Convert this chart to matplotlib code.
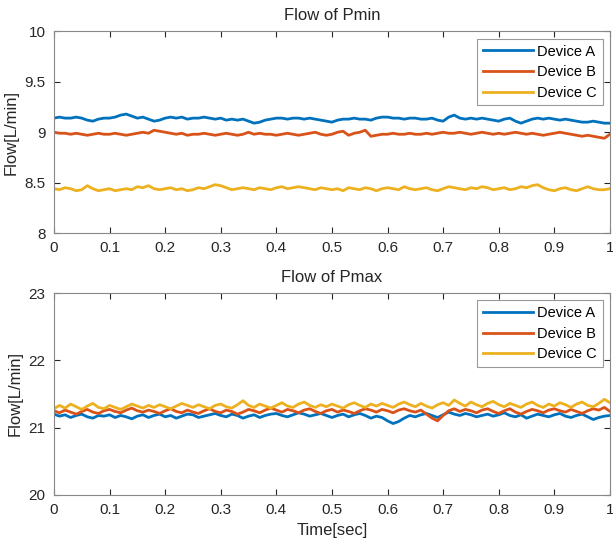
import numpy as np
import matplotlib
matplotlib.use("Agg")
from matplotlib import pyplot as plt

plt.rcParams['font.family'] = ['Liberation Sans', 'DejaVu Sans']

# sample times (sec)
t = np.linspace(0, 1, 101)

# Flow of Pmin [L/min]
pmin_a = [9.14, 9.15, 9.14, 9.14, 9.15, 9.14, 9.12, 9.11, 9.13, 9.14,
          9.14, 9.15, 9.17, 9.18, 9.16, 9.14, 9.15, 9.13, 9.11, 9.12,
          9.14, 9.15, 9.14, 9.15, 9.13, 9.14, 9.14, 9.15, 9.14, 9.13,
          9.14, 9.12, 9.13, 9.12, 9.13, 9.11, 9.09, 9.10, 9.12, 9.13,
          9.14, 9.14, 9.13, 9.14, 9.14, 9.13, 9.14, 9.13, 9.12, 9.11,
          9.10, 9.12, 9.13, 9.13, 9.14, 9.13, 9.13, 9.12, 9.14, 9.15,
          9.15, 9.14, 9.14, 9.13, 9.14, 9.14, 9.13, 9.13, 9.14, 9.12,
          9.11, 9.15, 9.17, 9.14, 9.13, 9.14, 9.13, 9.14, 9.13, 9.12,
          9.11, 9.13, 9.14, 9.11, 9.09, 9.11, 9.13, 9.14, 9.13, 9.14,
          9.13, 9.12, 9.13, 9.12, 9.11, 9.10, 9.10, 9.11, 9.10, 9.09, 9.09]
pmin_b = [9.00, 8.99, 8.99, 8.98, 8.99, 8.98, 8.97, 8.98, 8.99, 8.98,
          8.98, 8.99, 8.98, 8.97, 8.98, 8.99, 9.00, 8.99, 9.02, 9.01,
          9.00, 8.99, 8.98, 8.99, 8.97, 8.98, 8.98, 8.99, 8.98, 8.97,
          8.98, 8.99, 8.98, 8.97, 8.98, 9.00, 8.98, 8.99, 8.98, 8.98,
          8.97, 8.98, 8.99, 8.98, 8.97, 8.98, 8.99, 9.00, 8.98, 8.97,
          8.98, 9.00, 9.01, 8.97, 8.99, 9.00, 9.02, 8.96, 8.97, 8.98,
          8.98, 8.99, 8.98, 8.98, 8.99, 8.98, 8.98, 8.99, 8.98, 8.99,
          9.00, 8.99, 8.99, 9.00, 8.99, 8.98, 8.99, 9.00, 8.99, 8.98,
          8.99, 8.98, 8.99, 9.00, 8.99, 8.98, 8.99, 8.98, 8.97, 8.98,
          8.99, 9.00, 8.99, 8.98, 8.97, 8.96, 8.97, 8.96, 8.95, 8.94, 8.98]
pmin_c = [8.44, 8.43, 8.45, 8.44, 8.42, 8.43, 8.47, 8.44, 8.42, 8.43,
          8.44, 8.42, 8.43, 8.44, 8.43, 8.46, 8.45, 8.47, 8.44, 8.43,
          8.44, 8.45, 8.43, 8.44, 8.42, 8.43, 8.45, 8.44, 8.46, 8.48,
          8.47, 8.45, 8.43, 8.44, 8.45, 8.44, 8.43, 8.45, 8.44, 8.43,
          8.45, 8.46, 8.44, 8.45, 8.46, 8.45, 8.44, 8.43, 8.45, 8.44,
          8.43, 8.44, 8.42, 8.45, 8.44, 8.43, 8.45, 8.44, 8.42, 8.44,
          8.45, 8.44, 8.43, 8.46, 8.44, 8.43, 8.44, 8.45, 8.43, 8.42,
          8.44, 8.46, 8.45, 8.44, 8.43, 8.45, 8.44, 8.46, 8.45, 8.43,
          8.44, 8.45, 8.43, 8.44, 8.46, 8.45, 8.47, 8.48, 8.45, 8.43,
          8.42, 8.44, 8.45, 8.43, 8.42, 8.44, 8.46, 8.44, 8.43, 8.43, 8.44]

# Flow of Pmax [L/min]
pmax_a = [21.20, 21.17, 21.19, 21.15, 21.18, 21.20, 21.16, 21.14, 21.18, 21.17,
          21.19, 21.15, 21.18, 21.16, 21.13, 21.17, 21.19, 21.15, 21.18, 21.20,
          21.16, 21.18, 21.14, 21.17, 21.20, 21.19, 21.15, 21.17, 21.19, 21.21,
          21.18, 21.16, 21.20, 21.18, 21.14, 21.17, 21.19, 21.15, 21.18, 21.20,
          21.21, 21.18, 21.16, 21.19, 21.22, 21.20, 21.17, 21.19, 21.21, 21.18,
          21.15, 21.18, 21.20, 21.16, 21.19, 21.21, 21.18, 21.14, 21.17, 21.15,
          21.10, 21.06, 21.09, 21.14, 21.18, 21.16, 21.19, 21.21, 21.18, 21.15,
          21.19, 21.23, 21.20, 21.18, 21.21, 21.19, 21.16, 21.18, 21.20, 21.17,
          21.19, 21.22, 21.18, 21.16, 21.19, 21.14, 21.17, 21.20, 21.18, 21.16,
          21.19, 21.21, 21.17, 21.15, 21.18, 21.20, 21.16, 21.12, 21.15, 21.17, 21.18]
pmax_b = [21.25, 21.22, 21.26, 21.23, 21.20, 21.24, 21.27, 21.23, 21.21, 21.25,
          21.27, 21.24, 21.22, 21.26, 21.29, 21.25, 21.23, 21.26, 21.24, 21.21,
          21.25, 21.28, 21.24, 21.22, 21.26, 21.23, 21.21, 21.25, 21.28, 21.24,
          21.22, 21.26, 21.24, 21.20, 21.23, 21.27, 21.25, 21.22, 21.26, 21.29,
          21.26, 21.23, 21.27, 21.25, 21.22, 21.26, 21.28, 21.24, 21.21, 21.25,
          21.27, 21.23, 21.26, 21.24, 21.21, 21.25, 21.28, 21.26, 21.23, 21.27,
          21.25, 21.22, 21.26, 21.28, 21.25, 21.23, 21.26, 21.20, 21.14, 21.10,
          21.18, 21.25, 21.28, 21.24, 21.27, 21.25, 21.22, 21.26, 21.28, 21.24,
          21.21, 21.25, 21.28, 21.23, 21.20, 21.24, 21.27, 21.25, 21.22, 21.26,
          21.28, 21.25, 21.23, 21.27, 21.24, 21.21, 21.25, 21.28, 21.26, 21.30, 21.24]
pmax_c = [21.28, 21.33, 21.29, 21.35, 21.31, 21.27, 21.32, 21.36, 21.30, 21.28,
          21.33, 21.30, 21.27, 21.31, 21.35, 21.32, 21.29, 21.33, 21.30, 21.34,
          21.31, 21.28, 21.32, 21.36, 21.33, 21.30, 21.34, 21.31, 21.28, 21.33,
          21.35, 21.31, 21.29, 21.34, 21.40, 21.33, 21.30, 21.35, 21.32, 21.29,
          21.33, 21.37, 21.32, 21.30, 21.35, 21.38, 21.33, 21.30, 21.34, 21.31,
          21.35, 21.32, 21.29, 21.34, 21.37, 21.33, 21.30, 21.35, 21.32, 21.36,
          21.33, 21.30, 21.35, 21.38, 21.34, 21.31, 21.36, 21.32, 21.29, 21.34,
          21.37, 21.33, 21.41, 21.36, 21.32, 21.38, 21.34, 21.31, 21.36, 21.39,
          21.34, 21.31, 21.36, 21.33, 21.30, 21.35, 21.38, 21.33, 21.30, 21.35,
          21.32, 21.37, 21.34, 21.30, 21.35, 21.38, 21.33, 21.31, 21.36, 21.42, 21.37]

labels = ["Device A", "Device B", "Device C"]
colors = ["#0072BD", "#D95319", "#EDB120"]
xticks = [0, 0.1, 0.2, 0.3, 0.4, 0.5, 0.6, 0.7, 0.8, 0.9, 1]
xticklabels = ["0", "0.1", "0.2", "0.3", "0.4", "0.5", "0.6", "0.7", "0.8", "0.9", "1"]

fig = plt.figure(figsize=(6.13, 5.51), dpi=100)
ax1 = fig.add_axes([0.088, 0.577, 0.907, 0.366])
ax2 = fig.add_axes([0.088, 0.102, 0.907, 0.366])


def style(ax, title, ylim, yticks, yticklabels):
    ax.set_xlim(0, 1)
    ax.set_ylim(*ylim)
    ax.set_xticks(xticks)
    ax.set_xticklabels(xticklabels)
    ax.set_yticks(yticks)
    ax.set_yticklabels(yticklabels)
    ax.set_title(title, fontsize=12, color="#262626", pad=8)
    ax.set_ylabel("Flow[L/min]", fontsize=12, color="#262626", labelpad=4)
    ax.tick_params(direction="in", top=True, right=True, length=4,
                   width=0.8, color="#262626", labelsize=11, labelcolor="#262626", pad=6)
    for s in ax.spines.values():
        s.set_color("#888888")
        s.set_linewidth(0.8)
    leg = ax.legend(loc="upper right", fontsize=10.5, fancybox=False,
                    edgecolor="#999999", framealpha=1, handlelength=3.4,
                    borderaxespad=0.5, labelspacing=0.45, handletextpad=0.3,
                    borderpad=0.4)
    leg.get_frame().set_linewidth(0.8)


for y, c, lab in zip([pmin_a, pmin_b, pmin_c], colors, labels):
    ax1.plot(t, y, color=c, linewidth=2, label=lab)
style(ax1, "Flow of Pmin", (8, 10), [8, 8.5, 9, 9.5, 10], ["8", "8.5", "9", "9.5", "10"])

for y, c, lab in zip([pmax_a, pmax_b, pmax_c], colors, labels):
    ax2.plot(t, y, color=c, linewidth=2, label=lab)
style(ax2, "Flow of Pmax", (20, 23), [20, 21, 22, 23], ["20", "21", "22", "23"])
ax2.set_xlabel("Time[sec]", fontsize=12, color="#262626", labelpad=4)

fig.savefig("out.png", dpi=100)
